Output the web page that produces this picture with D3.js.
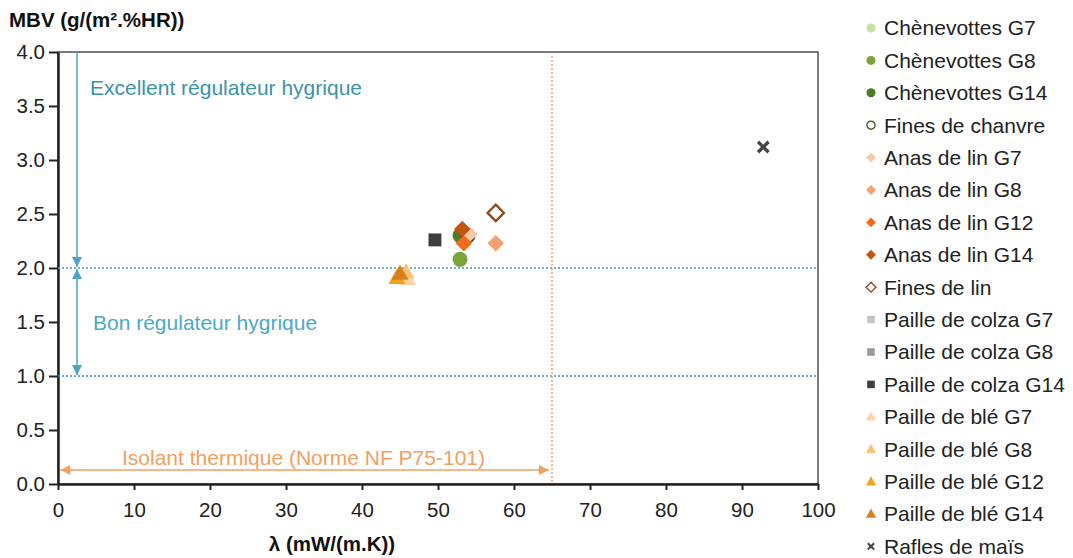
<!DOCTYPE html>
<html>
<head>
<meta charset="utf-8">
<script src="https://cdn.jsdelivr.net/npm/d3@7"></script>
<style>
  body { margin: 0; background: #fff; }
  svg { font-family: "Liberation Sans", Arial, sans-serif; }
</style>
</head>
<body>
<svg width="1073" height="558"></svg>
<script>
// series names, shapes, colours
var seriesNames = ["Chènevottes G7", "Chènevottes G8", "Chènevottes G14", "Fines de chanvre",
  "Anas de lin G7", "Anas de lin G8", "Anas de lin G12", "Anas de lin G14", "Fines de lin",
  "Paille de colza G7", "Paille de colza G8", "Paille de colza G14",
  "Paille de blé G7", "Paille de blé G8", "Paille de blé G12", "Paille de blé G14", "Rafles de maïs"];
var seriesShapes = ["circle", "circle", "circle", "circleOpen", "diamond", "diamond", "diamond", "diamond",
  "diamondOpen", "square", "square", "square", "triangle", "triangle", "triangle", "triangle", "cross"];
var seriesColors = ["#c6e0a8", "#7ba43a", "#4f7b27", "#3f5a22", "#f8c9a6", "#f5a271", "#f06c1b", "#c2560f",
  "#8a4a1e", "#c4c4c4", "#9a9a9a", "#3e3e3e", "#fbd6a6", "#f8c27a", "#f4a023", "#d9801c", "#444444"];

// lambda (mW/(m.K)) and MBV (g/(m².%HR))
var lambdaValues = [53.6, 52.9, 52.9, 53.9, 54.1, 57.6, 53.4, 53.2, 57.6, 49.6, 49.6, 49.6, 46.0, 45.8, 44.6, 45.0, 92.8];
var mbvValues = [2.28, 2.08, 2.30, 2.30, 2.31, 2.23, 2.23, 2.36, 2.51, 2.26, 2.26, 2.26, 1.90, 1.96, 1.91, 1.95, 3.12];

var xTicks = [0, 10, 20, 30, 40, 50, 60, 70, 80, 90, 100];
var yTicks = [0, 0.5, 1, 1.5, 2, 2.5, 3, 3.5, 4];
var mbvThresholds = [2, 1];
var lambdaLimit = 65;

var svg = d3.select("svg");
var x = d3.scaleLinear().domain([0, 100]).range([58, 818]);
var y = d3.scaleLinear().domain([0, 4]).range([484, 52]);

var blue = "#4aa3c4";
var orange = "#f2a060";

// frame
svg.append("rect")
  .attr("x", x(0)).attr("y", y(4))
  .attr("width", x(100) - x(0)).attr("height", y(0) - y(4))
  .attr("fill", "none").attr("stroke", "#333").attr("stroke-width", 1.3);

svg.append("g")
  .attr("transform", "translate(0," + y(0) + ")")
  .call(d3.axisBottom(x).tickValues(xTicks).tickSize(6).tickSizeOuter(0))
  .call(function (g) {
    g.select(".domain").attr("stroke", "#222").attr("stroke-width", 2.5);
    g.selectAll("line").attr("stroke", "#222").attr("stroke-width", 2);
    g.selectAll("text").attr("font-size", 20.5).attr("fill", "#222")
      .attr("y", 33).attr("dy", 0).attr("font-family", "Liberation Sans, Arial, sans-serif");
  });

svg.append("g")
  .attr("transform", "translate(" + x(0) + ",0)")
  .call(d3.axisLeft(y).tickValues(yTicks).tickFormat(d3.format(".1f")).tickSize(9).tickSizeOuter(0))
  .call(function (g) {
    g.select(".domain").attr("stroke", "#222").attr("stroke-width", 2.5);
    g.selectAll("line").attr("stroke", "#222").attr("stroke-width", 2);
    g.selectAll("text").attr("font-size", 20.5).attr("fill", "#222")
      .attr("x", -13).attr("font-family", "Liberation Sans, Arial, sans-serif");
  });

// threshold lines
svg.selectAll(".hline").data(mbvThresholds).enter().append("line")
  .attr("x1", x(0)).attr("x2", x(100))
  .attr("y1", function (d) { return y(d); }).attr("y2", function (d) { return y(d); })
  .attr("stroke", "#3f95b5").attr("stroke-width", 1.5).attr("stroke-dasharray", "2,2");

svg.append("line")
  .attr("x1", x(lambdaLimit)).attr("x2", x(lambdaLimit))
  .attr("y1", y(4)).attr("y2", y(0))
  .attr("stroke", orange).attr("stroke-width", 1.5).attr("stroke-dasharray", "2,2");

// arrow heads
var defs = svg.append("defs");
function marker(id, color) {
  defs.append("marker").attr("id", id)
    .attr("viewBox", "0 0 10 10").attr("refX", 10).attr("refY", 5)
    .attr("markerWidth", 11).attr("markerHeight", 10).attr("markerUnits", "userSpaceOnUse")
    .attr("orient", "auto-start-reverse")
    .append("path").attr("d", "M0,0 L10,5 L0,10 z").attr("fill", color);
}
marker("arrBlue", blue);
marker("arrOrange", orange);

var arrowX = x(2.5);
svg.append("line")
  .attr("x1", arrowX).attr("x2", arrowX).attr("y1", y(4)).attr("y2", y(2) - 1)
  .attr("stroke", blue).attr("stroke-width", 1.5).attr("marker-end", "url(#arrBlue)");
svg.append("line")
  .attr("x1", arrowX).attr("x2", arrowX).attr("y1", y(2) + 1).attr("y2", y(1) - 1)
  .attr("stroke", blue).attr("stroke-width", 1.5)
  .attr("marker-start", "url(#arrBlue)").attr("marker-end", "url(#arrBlue)");
svg.append("line")
  .attr("x1", x(0.3)).attr("x2", x(64.6)).attr("y1", y(0.13)).attr("y2", y(0.13))
  .attr("stroke", orange).attr("stroke-width", 1.5)
  .attr("marker-start", "url(#arrOrange)").attr("marker-end", "url(#arrOrange)");

svg.append("text").attr("x", 90).attr("y", 95)
  .attr("font-size", 21).attr("fill", "#3a93ad").text("Excellent régulateur hygrique");
svg.append("text").attr("x", 93).attr("y", 330)
  .attr("font-size", 21).attr("fill", "#4aaac8").text("Bon régulateur hygrique");
svg.append("text").attr("x", 122).attr("y", 465)
  .attr("font-size", 21).attr("fill", orange).text("Isolant thermique (Norme NF P75-101)");

// axis titles
svg.append("text").attr("x", 9).attr("y", 27)
  .attr("font-size", 20.5).attr("font-weight", "bold").attr("fill", "#111").text("MBV (g/(m².%HR))");
svg.append("text").attr("x", 332).attr("y", 551).attr("text-anchor", "middle")
  .attr("font-size", 20.5).attr("font-weight", "bold").attr("fill", "#111").text("λ (mW/(m.K))");

// symbol drawing
function drawSymbol(g, shape, color, s) {
  if (shape === "circle") {
    g.append("circle").attr("r", s * 0.5).attr("fill", color);
  } else if (shape === "circleOpen") {
    g.append("circle").attr("r", s * 0.45).attr("fill", "#fff").attr("stroke", color).attr("stroke-width", s * 0.15);
  } else if (shape === "diamond" || shape === "diamondOpen") {
    var h = s * 0.55;
    var p = g.append("path").attr("d", "M0," + (-h) + "L" + h + ",0L0," + h + "L" + (-h) + ",0Z");
    if (shape === "diamond") p.attr("fill", color);
    else p.attr("fill", "#fff").attr("stroke", color).attr("stroke-width", s * 0.15);
  } else if (shape === "square") {
    g.append("rect").attr("x", -s * 0.42).attr("y", -s * 0.42).attr("width", s * 0.84).attr("height", s * 0.84).attr("fill", color);
  } else if (shape === "triangle") {
    var t = s * 0.6;
    g.append("path").attr("d", "M0," + (-t) + "L" + (t * 0.95) + "," + (t * 0.7) + "L" + (-t * 0.95) + "," + (t * 0.7) + "Z").attr("fill", color);
  } else if (shape === "cross") {
    var c = s * 0.35;
    g.append("path").attr("d", "M" + (-c) + "," + (-c) + "L" + c + "," + c + "M" + c + "," + (-c) + "L" + (-c) + "," + c)
      .attr("stroke", color).attr("stroke-width", s * 0.22).attr("fill", "none");
  }
}

// points
var points = seriesNames.map(function (n, i) {
  return { name: n, shape: seriesShapes[i], color: seriesColors[i], x: lambdaValues[i], y: mbvValues[i] };
});
svg.append("g").selectAll("g").data(points).enter().append("g")
  .attr("transform", function (d) { return "translate(" + x(d.x) + "," + y(d.y) + ")"; })
  .each(function (d) { drawSymbol(d3.select(this), d.shape, d.color, 15); });

// legend
var legend = svg.append("g").selectAll("g").data(points).enter().append("g")
  .attr("transform", function (d, i) { return "translate(871," + (28 + i * 32.4) + ")"; });
legend.each(function (d) { drawSymbol(d3.select(this), d.shape, d.color, 9); });
legend.append("text").attr("x", 13).attr("dy", "0.35em")
  .attr("font-size", 21).attr("fill", "#222").text(function (d) { return d.name; });
</script>
</body>
</html>
